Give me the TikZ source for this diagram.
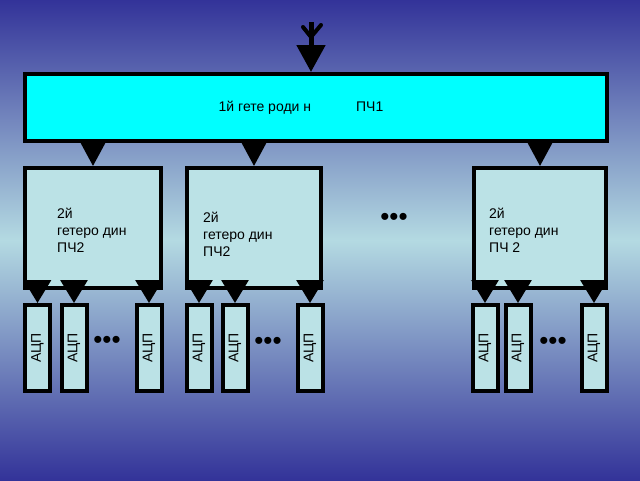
\documentclass[tikz,border=0pt]{standalone}
\usepackage{fontspec}
\setmainfont{Liberation Sans}
\usetikzlibrary{arrows.meta, positioning, calc}

\definecolor{bgdark}{RGB}{51,51,153}
\definecolor{bglight}{RGB}{180,218,226}
\definecolor{boxfill}{RGB}{187,226,230}
\definecolor{brightcyan}{RGB}{0,255,255}

\tikzset{
  blk/.style={draw=black, line width=4pt, fill=boxfill, inner sep=0pt},
  het/.style={blk, minimum height=120pt},
  adc/.style={blk, minimum width=25pt, minimum height=86pt, font=\fontsize{14}{16}\selectfont},
  lbl/.style={anchor=west, align=left, inner sep=0pt, font=\fontsize{14}{17}\selectfont},
  feed/.style={line width=3pt, -{Triangle[width=27pt,length=23pt]}},
  dotrow/.style={inner sep=0pt, font=\fontsize{26}{26}\selectfont}
}

\begin{document}
\begin{tikzpicture}[x=1pt, y=-1pt]
% Background
\shade[top color=bgdark, bottom color=bgdark, middle color=bglight] (0,0) rectangle (640,480);
\useasboundingbox (0,0) rectangle (640,480);

% Input and first heterodyne
\coordinate (in) at (311,22);
\node[blk, fill=brightcyan, minimum width=582pt, minimum height=67pt] (pch1) at (316,107.5) {};
\node[font=\fontsize{14}{17}\selectfont] (t1) at (301,108) {1й гете роди н\hspace{45pt}ПЧ1};
\draw[line width=4pt, line cap=round, line join=round] ($(in)+(-8,5)$) -- ($(in)+(0,15)$) -- ($(in)+(10,3)$);
\draw[line width=5pt, -{Triangle[width=28pt,length=27pt]}] (in) -- (in |- pch1.north);

% Second heterodynes
\node[het, minimum width=136pt] (h1) at (93,228) {};
\node[het, minimum width=134pt] (h2) at (254,228) {};
\node[het, minimum width=132pt] (h3) at (540,228) {};
\node[lbl] (l1) at (57,230) {2й\\гетеро дин\\ПЧ2};
\node[lbl] (l2) at (203,234) {2й\\гетеро дин\\ПЧ2};
\node[lbl] (l3) at (489,230) {2й\\гетеро дин\\ПЧ 2};
\foreach \h in {h1,h2,h3}
  \draw[feed, -{Triangle[width=25pt,length=24pt]}] (pch1.south -| \h.north) -- (\h.north);
\node[dotrow] (d0) at (394,219) {\textbullet\textbullet\textbullet};

% ADCs
\foreach \n/\x in {a1/37.5, a2/74, a3/149, a4/199, a5/235, a6/310, a7/485, a8/518, a9/594}
  \node[adc] (\n) at (\x,348) {\rotatebox{90}{АЦП}};
\foreach \h/\a in {h1/a1, h1/a2, h1/a3, h2/a4, h2/a5, h2/a6, h3/a7, h3/a8, h3/a9}
  \draw[feed, shorten <=-5pt] (\h.south -| \a.north) -- (\a.north);
\node[dotrow] (d1) at (107,342) {\textbullet\textbullet\textbullet};
\node[dotrow] (d2) at (268,343) {\textbullet\textbullet\textbullet};
\node[dotrow] (d3) at (553,343) {\textbullet\textbullet\textbullet};
\end{tikzpicture}
\end{document}
